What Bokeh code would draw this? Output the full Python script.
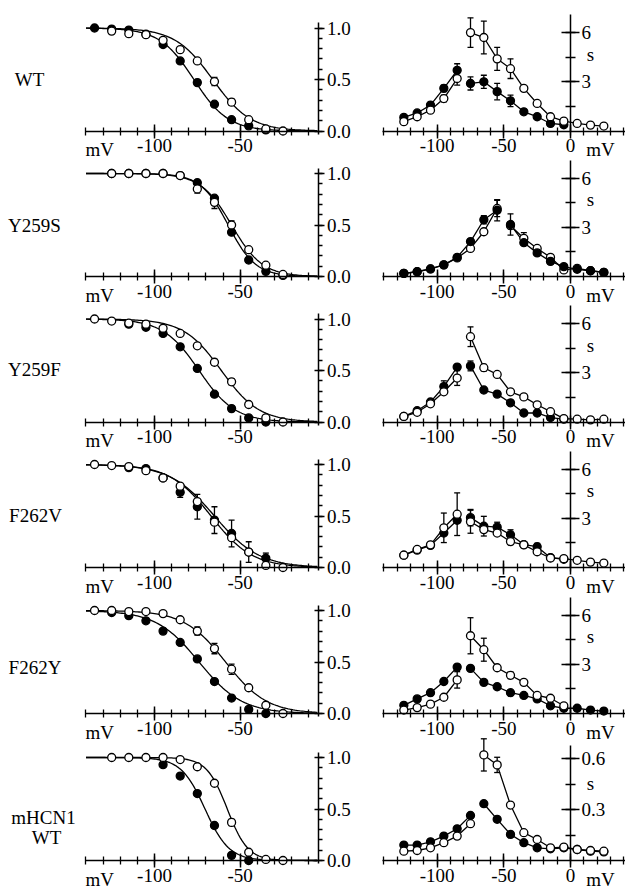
import math
from bokeh.plotting import figure
from bokeh.models import Range1d, LinearAxis, FixedTicker, PrintfTickFormatter
from bokeh.core.properties import value
from bokeh.embed import file_html
from bokeh.resources import INLINE

nan = float("nan")

# ------------------------------------------------------------------ data
ROW_LABELS = [["WT"], ["Y259S"], ["Y259F"], ["F262V"], ["F262Y"], ["mHCN1", "WT"]]

# activation (left column), normalised, voltages in mV
V_ACT = [-135, -125, -115, -105, -95, -85, -75, -65, -55, -45, -35, -25]

wt_act_filled    = [1.00, 0.99, 0.98, 0.94, 0.84, 0.68, 0.47, 0.26, 0.11, 0.05, 0.01, nan]
wt_act_open      = [nan, 0.97, 0.945, 0.935, 0.88, 0.79, 0.68, 0.48, 0.28, 0.11, 0.02, 0.00]
y259s_act_filled = [nan, 1.00, 1.00, 1.00, 1.00, 0.98, 0.91, 0.76, 0.43, 0.16, 0.05, 0.01]
y259s_act_open   = [nan, 1.00, 1.00, 1.00, 1.00, 0.98, 0.85, 0.72, 0.50, 0.26, 0.11, 0.02]
y259f_act_filled = [nan, nan, 0.95, 0.92, 0.86, 0.73, 0.52, 0.27, 0.13, 0.04, 0.00, nan]
y259f_act_open   = [1.00, 0.98, 0.96, 0.95, 0.91, 0.86, 0.74, 0.58, 0.39, 0.17, 0.04, 0.00]
f262v_act_filled = [nan, nan, 0.97, 0.96, 0.87, 0.73, 0.59, 0.46, 0.33, 0.15, 0.09, nan]
f262v_act_open   = [1.00, 0.99, 0.98, 0.94, 0.87, 0.79, 0.64, 0.44, 0.29, 0.15, 0.02, 0.00]
f262y_act_filled = [nan, 0.98, 0.95, 0.90, 0.80, 0.69, 0.53, 0.31, 0.15, 0.04, 0.00, nan]
f262y_act_open   = [1.00, 1.00, 0.99, 0.99, 0.97, 0.91, 0.80, 0.63, 0.43, 0.25, 0.08, 0.00]
mhcn1_act_filled = [nan, nan, nan, nan, 0.93, 0.82, 0.65, 0.34, 0.05, 0.00, nan, nan]
mhcn1_act_open   = [nan, 1.00, 1.00, 1.00, 1.00, 0.98, 0.91, 0.75, 0.37, 0.08, 0.01, 0.00]

# error bars (mV -> half width)
wt_act_open_err      = {-65: 0.04, -55: 0.03}
y259s_act_open_err   = {-75: 0.04, -65: 0.06, -55: 0.04}
y259f_act_open_err   = {-65: 0.03, -55: 0.03}
f262v_act_filled_err = {-85: 0.05, -75: 0.12, -65: 0.13, -55: 0.13, -35: 0.05}
f262v_act_open_err   = {-45: 0.10}
f262y_act_open_err   = {-75: 0.04, -65: 0.05, -55: 0.05}
mhcn1_act_open_err   = {-55: 0.03}

# Boltzmann fit parameters: (V1/2 in mV, slope in mV)
fit_filled = [(-77, 10), (-57, 8), (-74, 10.5), (-65, 13), (-74, 12.5), (-70.5, 7)]
fit_open   = [(-66, 11), (-55, 9), (-61, 11), (-67, 12), (-58.5, 12), (-57.5, 6)]

# time constants (right column), seconds
V_TAU = [-125, -115, -105, -95, -85, -75, -65, -55, -45, -35, -25, -15, -5, 5, 15, 25]

wt_tau_filled    = [0.83, 1.10, 1.58, 2.60, 3.70, 2.90, 3.00, 2.40, 1.84, 1.17, 0.87, 0.46, 0.38, nan, nan, nan]
wt_tau_open      = [0.57, 0.87, 1.27, 1.98, 3.20, 6.00, 5.70, 4.40, 3.80, 2.60, 1.68, 0.87, 0.60, 0.46, 0.36, 0.30]
y259s_tau_filled = [0.19, 0.29, 0.46, 0.71, 1.17, 2.13, 3.46, 4.04, 3.17, 2.06, 1.44, 0.92, 0.60, 0.44, 0.35, 0.25]
y259s_tau_open   = [0.19, 0.29, 0.46, 0.71, 1.13, 1.71, 2.73, 4.15, 3.10, 2.33, 1.71, 1.17, 0.40, 0.50, 0.35, 0.25]
y259f_tau_filled = [0.34, 0.69, 1.22, 2.16, 3.35, 3.42, 1.95, 1.70, 1.17, 0.55, 0.55, 0.27, 0.17, nan, nan, nan]
y259f_tau_open   = [0.34, 0.59, 1.11, 1.84, 2.68, 5.20, 3.31, 2.90, 1.84, 1.53, 1.05, 0.63, 0.21, 0.17, 0.13, 0.17]
f262v_tau_filled = [0.75, 1.06, 1.35, 2.10, 2.88, 3.04, 2.52, 2.46, 2.00, 1.40, 1.27, 0.60, 0.50, nan, nan, nan]
f262v_tau_open   = [0.75, 1.10, 1.38, 2.42, 3.25, 2.79, 2.31, 2.10, 1.58, 1.38, 0.96, 0.58, 0.54, 0.44, 0.33, 0.27]
f262y_tau_filled = [0.50, 0.89, 1.27, 1.95, 2.83, 2.75, 1.90, 1.63, 1.27, 1.10, 0.89, 0.47, 0.32, 0.32, 0.21, 0.15]
f262y_tau_open   = [0.21, 0.36, 0.57, 0.99, 2.05, 4.74, 3.89, 2.79, 2.33, 1.90, 1.10, 0.93, 0.47, nan, nan, nan]
mhcn1_tau_filled = [0.091, 0.091, 0.110, 0.144, 0.187, 0.266, 0.335, 0.243, 0.154, 0.105, 0.075, 0.069, 0.075, 0.065, 0.055, 0.051]
mhcn1_tau_open   = [0.055, 0.059, 0.075, 0.105, 0.144, 0.217, 0.623, 0.564, 0.327, 0.164, 0.124, 0.075, 0.079, 0.065, 0.059, 0.055]

wt_tau_filled_err    = {-95: 0.2, -85: 0.4, -75: 0.4, -65: 0.4, -55: 0.5, -45: 0.35}
wt_tau_open_err      = {-95: 0.2, -85: 0.4, -75: 0.9, -65: 1.0, -55: 0.7, -45: 0.6}
y259s_tau_filled_err = {-65: 0.25, -55: 0.65, -45: 0.65}
y259s_tau_open_err   = {-55: 0.5, -35: 0.35}
y259f_tau_filled_err = {-95: 0.35, -75: 0.3}
y259f_tau_open_err   = {-85: 0.45, -75: 0.6, -65: 0.2}
f262v_tau_filled_err = {-75: 0.5, -65: 0.6, -55: 0.3, -45: 0.3, -25: 0.2}
f262v_tau_open_err   = {-95: 0.9, -85: 1.3, -75: 0.7}
f262y_tau_filled_err = {}
f262y_tau_open_err   = {-85: 0.5, -75: 1.1, -65: 0.7, -45: 0.2}
mhcn1_tau_filled_err = {}
mhcn1_tau_open_err   = {-65: 0.095, -55: 0.045}

# the two protocols are not joined between these voltages
tau_break = [-80, -50, -80, -80, -80, -70]

# right-hand axis tick values
tau_major = [[3, 6]] * 5 + [[0.3, 0.6]]
tau_minor = [[1.5, 3, 4.5, 6]] * 5 + [[0.15, 0.3, 0.45, 0.6]]
tau_fmt = ["%d"] * 5 + ["%.1f"]

act_filled = [wt_act_filled, y259s_act_filled, y259f_act_filled, f262v_act_filled, f262y_act_filled, mhcn1_act_filled]
act_open = [wt_act_open, y259s_act_open, y259f_act_open, f262v_act_open, f262y_act_open, mhcn1_act_open]
act_filled_err = [{}, {}, {}, f262v_act_filled_err, {}, {}]
act_open_err = [wt_act_open_err, y259s_act_open_err, y259f_act_open_err, f262v_act_open_err, f262y_act_open_err, mhcn1_act_open_err]
tau_filled = [wt_tau_filled, y259s_tau_filled, y259f_tau_filled, f262v_tau_filled, f262y_tau_filled, mhcn1_tau_filled]
tau_open = [wt_tau_open, y259s_tau_open, y259f_tau_open, f262v_tau_open, f262y_tau_open, mhcn1_tau_open]
tau_filled_err = [wt_tau_filled_err, y259s_tau_filled_err, y259f_tau_filled_err, f262v_tau_filled_err, f262y_tau_filled_err, mhcn1_tau_filled_err]
tau_open_err = [wt_tau_open_err, y259s_tau_open_err, y259f_tau_open_err, f262v_tau_open_err, f262y_tau_open_err, mhcn1_tau_open_err]

# ------------------------------------------------------------------ layout
W, H = 625, 892
X0, Y0 = 0, 0                      # page position of the canvas
L_X100, L_PX = 154.0, 1.713        # page x of -100 mV, px per mV (left)
R_X0, R_PX = 570.0, 4.0 / 3.0      # page x of 0 mV, px per mV (right)
ROW_BASE = [130.5, 276, 421.5, 567, 713, 860]
ACT_PX = 103.0                     # px per unit activation
TAU_PX = [16.4] * 5 + [169.5]      # px per second
TAU_TOP = [7.1] * 5 + [0.68]
FONT = "Liberation Serif"
FS = "19px"
label_dy = [[-51.5], [-51.5], [-52.5], [-52], [-46], [-43.5, -23]]
label_x = [[29], [34], [34], [35], [34.5], [43, 46]]

p = figure(width=W, height=H, output_backend="svg", toolbar_location=None,
           x_range=Range1d(X0, X0 + W), y_range=Range1d(Y0 + H, Y0),
           x_axis_type=None, y_axis_type=None, min_border=0,
           outline_line_color=None, background_fill_color="white",
           border_fill_color="white")

p.extra_x_ranges["L"] = Range1d(-100 + (X0 - L_X100) / L_PX, -100 + (X0 + W - L_X100) / L_PX)
p.extra_x_ranges["R"] = Range1d((X0 - R_X0) / R_PX, (X0 + W - R_X0) / R_PX)


def axis_style(ax, tin, tout, min_in, min_out, standoff):
    ax.axis_line_width = 1.5
    ax.axis_line_color = "black"
    ax.major_tick_line_width = 1.5
    ax.minor_tick_line_width = 1.3
    ax.major_tick_line_color = "black"
    ax.minor_tick_line_color = "black"
    ax.major_tick_in = tin
    ax.major_tick_out = tout
    ax.minor_tick_in = min_in
    ax.minor_tick_out = min_out
    ax.major_label_standoff = standoff
    ax.major_label_text_font = FONT
    ax.major_label_text_font_size = FS
    ax.major_label_text_color = "black"


def errbars(v_list, data, errs, xr, yr):
    xs, lo, hi = [], [], []
    for v, e in errs.items():
        y = data[v_list.index(v)]
        if y == y:
            xs.append(v)
            lo.append(y - e)
            hi.append(y + e)
    if xs:
        p.segment(xs, lo, xs, hi, line_color="black", line_width=1.3,
                  x_range_name=xr, y_range_name=yr)
        p.scatter(xs + xs, lo + hi, marker="dash", size=6, line_color="black",
                  line_width=1.3, x_range_name=xr, y_range_name=yr)


for r in range(6):
    B = ROW_BASE[r]
    yl, yrn = f"L{r}", f"R{r}"
    p.extra_y_ranges[yl] = Range1d((B - (Y0 + H)) / ACT_PX, (B - Y0) / ACT_PX)
    sc = TAU_PX[r]
    p.extra_y_ranges[yrn] = Range1d((B - (Y0 + H)) / sc, (B - Y0) / sc)

    # ---- row label
    for t, dy, lx in zip(ROW_LABELS[r], label_dy[r], label_x[r]):
        p.text(x=[lx], y=[B + dy], text=[t], text_font=value(FONT), text_font_size=FS,
               text_align="center", text_baseline="middle", text_color="black")

    # ---- left: activation
    ax = LinearAxis(x_range_name="L", y_range_name=yl, fixed_location=0, bounds=(-140, -4),
                    ticker=FixedTicker(ticks=[-100, -50], minor_ticks=list(range(-140, -9, 10))),
                    formatter=PrintfTickFormatter(format="%d"))
    axis_style(ax, 7, 7, 4, 4, 1)
    p.add_layout(ax, "below")
    ay = LinearAxis(x_range_name="L", y_range_name=yl, fixed_location=-4, bounds=(-0.03, 1.05),
                    ticker=FixedTicker(ticks=[0, 0.5, 1.0], minor_ticks=[i / 10 for i in range(11)]),
                    formatter=PrintfTickFormatter(format="%.1f"))
    axis_style(ay, 4, 6, 0, 4, 2)
    p.add_layout(ay, "right")
    p.text(x=[-132], y=[-8 / ACT_PX], text=["mV"], x_range_name="L", y_range_name=yl,
           text_font=value(FONT), text_font_size=FS, text_align="center",
           text_baseline="top", text_color="black")

    vgrid = list(range(-140, -4))
    for (vh, k) in (fit_filled[r], fit_open[r]):
        p.line(vgrid, [1.0 / (1.0 + math.exp((v - vh) / k)) for v in vgrid],
               line_color="black", line_width=1.3, x_range_name="L", y_range_name=yl)
    errbars(V_ACT, act_filled[r], act_filled_err[r], "L", yl)
    errbars(V_ACT, act_open[r], act_open_err[r], "L", yl)
    p.scatter(V_ACT, act_filled[r], size=8, fill_color="black", line_color="black",
              line_width=1.3, x_range_name="L", y_range_name=yl)
    p.scatter(V_ACT, act_open[r], size=8, fill_color="white", line_color="black",
              line_width=1.3, x_range_name="L", y_range_name=yl)

    # ---- right: time constants
    bx = LinearAxis(x_range_name="R", y_range_name=yrn, fixed_location=0, bounds=(-141, 41),
                    ticker=FixedTicker(ticks=[-100, -50, 0], minor_ticks=list(range(-140, 41, 10))),
                    formatter=PrintfTickFormatter(format="%d"))
    axis_style(bx, 7, 7, 4, 4, 1)
    p.add_layout(bx, "below")
    by = LinearAxis(x_range_name="R", y_range_name=yrn, fixed_location=0, bounds=(0, TAU_TOP[r]),
                    ticker=FixedTicker(ticks=tau_major[r], minor_ticks=tau_minor[r]),
                    formatter=PrintfTickFormatter(format=tau_fmt[r]))
    axis_style(by, 9, 9, 5, 5, 2)
    p.add_layout(by, "right")
    p.text(x=[22.5], y=[-8 / sc], text=["mV"], x_range_name="R", y_range_name=yrn,
           text_font=value(FONT), text_font_size=FS, text_align="center",
           text_baseline="top", text_color="black")
    p.text(x=[15], y=[77 / sc], text=["s"], x_range_name="R", y_range_name=yrn,
           text_font=value(FONT), text_font_size=FS, text_align="center",
           text_baseline="middle", text_color="black")

    brk = tau_break[r]
    for data in (tau_filled[r], tau_open[r]):
        seg1 = [(v, t) for v, t in zip(V_TAU, data) if v < brk and t == t]
        seg2 = [(v, t) for v, t in zip(V_TAU, data) if v > brk and t == t]
        p.multi_line([[a for a, _ in seg1], [a for a, _ in seg2]],
                     [[b for _, b in seg1], [b for _, b in seg2]],
                     line_color="black", line_width=1.3, x_range_name="R", y_range_name=yrn)
    errbars(V_TAU, tau_filled[r], tau_filled_err[r], "R", yrn)
    errbars(V_TAU, tau_open[r], tau_open_err[r], "R", yrn)
    order = [(tau_open[r], "white"), (tau_filled[r], "black")] if r == 1 else \
            [(tau_filled[r], "black"), (tau_open[r], "white")]
    for data, fc in order:
        p.scatter(V_TAU, data, size=8, fill_color=fc, line_color="black", line_width=1.3,
                  x_range_name="R", y_range_name=yrn)

open("out.html", "w").write(file_html(p, INLINE))
